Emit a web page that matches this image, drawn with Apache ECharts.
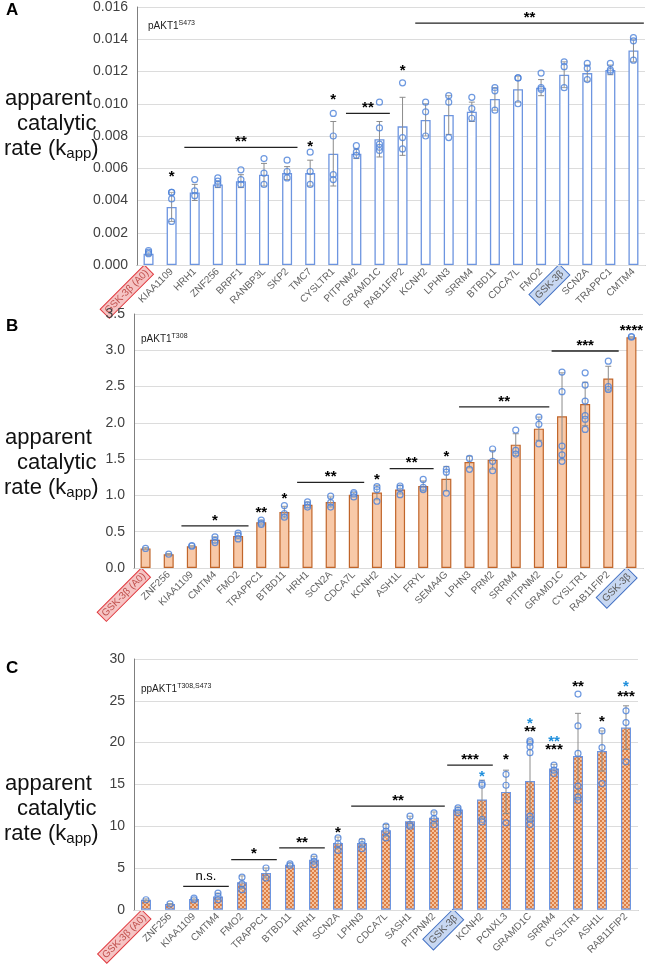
<!DOCTYPE html>
<html lang="en">
<head>
<meta charset="UTF-8">
<title>apparent catalytic rate</title>
<script src="https://cdn.jsdelivr.net/npm/echarts@6/dist/echarts.min.js"></script>
<style>
  html, body { margin: 0; padding: 0; background: #fff; }
  #chart { width: 649px; height: 966px; }
</style>
</head>
<body>
<div id="chart"></div>
<script>
// ---- panel A : pAKT1 S473 ----
var catA = ['GSK-3β (A0)', 'KIAA1109', 'HRH1', 'ZNF256', 'BRPF1', 'RANBP3L', 'SKP2', 'TMC7', 'CYSLTR1', 'PITPNM2',
  'GRAMD1C', 'RAB11FIP2', 'KCNH2', 'LPHN3', 'SRRM4', 'BTBD11', 'CDCA7L', 'FMO2', 'GSK-3β', 'SCN2A', 'TRAPPC1', 'CMTM4'];
var meanA = [0.0007, 0.0036, 0.0045, 0.0050, 0.0052, 0.0056, 0.0057, 0.0057, 0.0069, 0.0069,
  0.0078, 0.0086, 0.0090, 0.0093, 0.0095, 0.0103, 0.0109, 0.0110, 0.0118, 0.0119, 0.0121, 0.0133];
var sdA = [0.0001, 0.0009, 0.0005, 0.0002, 0.0004, 0.0007, 0.0004, 0.0008, 0.0020, 0.0003,
  0.0011, 0.0018, 0.0010, 0.0012, 0.0006, 0.0007, 0.0008, 0.0005, 0.0008, 0.0005, 0.0003, 0.0007];
var ptsA = [[0.0009, 0.0008, 0.0007], [0.0045, 0.0041, 0.0027, 0.0045], [0.0053, 0.0046, 0.0043], [0.0054, 0.0052, 0.0050],
  [0.0059, 0.0053, 0.0050], [0.0066, 0.0057, 0.0050], [0.0065, 0.0058, 0.0054], [0.0070, 0.0058, 0.0050],
  [0.0094, 0.0080, 0.0056, 0.0053], [0.0074, 0.0070, 0.0068], [0.0101, 0.0085, 0.0075, 0.0073, 0.0071],
  [0.0113, 0.0079, 0.0072], [0.0101, 0.0095, 0.0080], [0.0105, 0.0101, 0.0079], [0.0104, 0.0097, 0.0091],
  [0.0110, 0.0108, 0.0096], [0.0116, 0.0116, 0.0100], [0.0119, 0.0110, 0.0109], [0.0126, 0.0123, 0.0110],
  [0.0125, 0.0122, 0.0115], [0.0125, 0.0121, 0.0120], [0.0141, 0.0139, 0.0127]];
// [from, to, level, text, colour]
var sigA = [[1, 1, 0.0053, '*', '#000'], [2, 6, 0.0073, '**', '#000'], [7, 7, 0.0072, '*', '#000'],
  [8, 8, 0.0101, '*', '#000'], [9, 10, 0.0094, '**', '#000'], [11, 11, 0.0119, '*', '#000'],
  [12, 21, 0.0150, '**', '#000']];
var ticksA = [0, 0.016, 0.002];

// ---- panel B : pAKT1 T308 ----
var catB = ['GSK-3β (A0)', 'ZNF256', 'KIAA1109', 'CMTM4', 'FMO2', 'TRAPPC1', 'BTBD11', 'HRH1', 'SCN2A', 'CDCA7L', 'KCNH2',
  'ASH1L', 'FRYL', 'SEMA4G', 'LPHN3', 'PRM2', 'SRRM4', 'PITPNM2', 'GRAMD1C', 'CYSLTR1', 'RAB11FIP2', 'GSK-3β'];
var meanB = [0.27, 0.19, 0.30, 0.39, 0.44, 0.63, 0.77, 0.87, 0.91, 1.01, 1.04,
  1.08, 1.13, 1.23, 1.46, 1.49, 1.70, 1.92, 2.09, 2.26, 2.61, 3.18];
var sdB = [0.01, 0.01, 0.01, 0.04, 0.04, 0.03, 0.08, 0.04, 0.07, 0.03, 0.10,
  0.06, 0.07, 0.17, 0.08, 0.13, 0.15, 0.16, 0.60, 0.30, 0.17, 0.01];
var ptsB = [[0.27], [0.19], [0.31, 0.30], [0.43, 0.38, 0.35], [0.48, 0.45, 0.40], [0.66, 0.62, 0.60],
  [0.86, 0.75, 0.70], [0.91, 0.87, 0.84], [0.99, 0.90, 0.84], [1.04, 1.02, 0.98], [1.12, 1.08, 0.92],
  [1.13, 1.10, 1.01], [1.22, 1.11, 1.08], [1.36, 1.32, 1.03], [1.51, 1.36], [1.64, 1.47, 1.34],
  [1.90, 1.62, 1.57], [2.08, 1.98, 1.71], [2.70, 2.43, 1.68, 1.56, 1.47], [2.69, 2.52, 2.30, 2.10, 2.05, 1.91],
  [2.85, 2.50, 2.46], [3.18, 3.19]];
var sigB = [[2, 4, 0.58, '*', '#000'], [5, 5, 0.72, '**', '#000'], [6, 6, 0.92, '*', '#000'],
  [7, 9, 1.18, '**', '#000'], [10, 10, 1.18, '*', '#000'], [11, 12, 1.37, '**', '#000'],
  [13, 13, 1.50, '*', '#000'], [14, 17, 2.22, '**', '#000'], [18, 20, 2.99, '***', '#000'],
  [21, 21, 3.24, '****', '#000']];
var ticksB = [0, 3.5, 0.5];

// ---- panel C : ppAKT1 T308,S473 ----
var catC = ['GSK-3β (A0)', 'ZNF256', 'KIAA1109', 'CMTM4', 'FMO2', 'TRAPPC1', 'BTBD11', 'HRH1', 'SCN2A', 'LPHN3', 'CDCA7L',
  'SASH1', 'PITPNM2', 'GSK-3β', 'KCNH2', 'PCNXL3', 'GRAMD1C', 'SRRM4', 'CYSLTR1', 'ASH1L', 'RAB11FIP2'];
var meanC = [1.2, 0.7, 1.3, 1.6, 3.3, 4.4, 5.4, 6.0, 8.0, 8.0, 9.5,
  10.6, 11.0, 12.0, 13.2, 14.1, 15.4, 16.9, 18.4, 19.0, 21.8];
var sdC = [0.1, 0.05, 0.1, 0.4, 0.75, 0.6, 0.15, 0.4, 0.7, 0.45, 0.7,
  0.6, 0.7, 0.3, 2.3, 2.6, 4.7, 0.5, 5.1, 2.4, 2.6];
var ptsC = [[1.2], [0.7], [1.4, 1.2], [2.0, 1.6, 1.2], [3.9, 3.1, 2.4], [5.0, 3.8], [5.5, 5.3],
  [6.3, 5.8, 5.4], [8.6, 7.9, 7.1], [8.2, 7.8, 7.3], [10.0, 9.4, 8.6], [11.2, 10.2, 10.0],
  [11.6, 10.9, 10.2], [12.2, 11.9, 11.6], [15.1, 14.9, 10.8, 10.5], [16.2, 14.9, 10.4],
  [20.2, 20.0, 19.5, 18.8, 11.2, 10.8, 10.2], [17.3, 16.7, 16.3], [25.8, 22.0, 18.7, 14.8, 13.5, 13.1],
  [21.4, 19.4, 15.1], [23.8, 22.4, 17.7]];
var sigC = [[2, 3, 2.8, 'n.s.', '#000'], [4, 5, 6.0, '*', '#000'], [6, 7, 7.4, '**', '#000'],
  [8, 8, 8.9, '*', '#000'], [9, 12, 12.4, '**', '#000'], [13, 14, 17.3, '***', '#000'],
  [14, 14, 15.6, '*', '#1f8fdc'], [15, 15, 17.6, '*', '#000'],
  [16, 16, 21.0, '**', '#000'], [16, 16, 22.0, '*', '#1f8fdc'],
  [17, 17, 18.8, '***', '#000'], [17, 17, 19.8, '**', '#1f8fdc'],
  [18, 18, 26.4, '**', '#000'], [19, 19, 22.2, '*', '#000'],
  [20, 20, 25.2, '***', '#000'], [20, 20, 26.4, '*', '#1f8fdc']];
var ticksC = [0, 30, 5];

var chart = echarts.init(document.getElementById('chart'));

// checkered orange fill of panel C
var pat = document.createElement('canvas');
pat.width = 4; pat.height = 4;
var pc = pat.getContext('2d');
pc.fillStyle = '#f5c29c'; pc.fillRect(0, 0, 4, 4);
pc.fillStyle = '#de7f45'; pc.fillRect(0, 0, 2, 2); pc.fillRect(2, 2, 2, 2);

function errRender(params, api) {
  var i = api.value(0), m = api.value(1), sd = api.value(2);
  var t = api.coord([i, m + sd]), b = api.coord([i, m - sd]);
  var st = { stroke: '#8c8c8c', lineWidth: 1 };
  return { type: 'group', children: [
    { type: 'line', shape: { x1: t[0], y1: t[1], x2: b[0], y2: b[1] }, style: st },
    { type: 'line', shape: { x1: t[0] - 3, y1: t[1], x2: t[0] + 3, y2: t[1] }, style: st },
    { type: 'line', shape: { x1: b[0] - 3, y1: b[1], x2: b[0] + 3, y2: b[1] }, style: st }
  ]};
}

function sigRender(list) {
  return function (params, api) {
    var d = list[params.dataIndex];
    var p1 = api.coord([d[0], d[2]]), p2 = api.coord([d[1], d[2]]);
    var half = api.size([1, 0])[0] * 0.45;
    var kids = [];
    var ty = p1[1];
    if (d[0] !== d[1]) {
      kids.push({ type: 'line', shape: { x1: p1[0] - half, y1: p1[1], x2: p2[0] + half, y2: p2[1] },
        style: { stroke: '#222', lineWidth: 1.3 } });
      ty = p1[1] - 3;
    }
    var star = d[3] !== 'n.s.';
    kids.push({ type: 'text', x: (p1[0] + p2[0]) / 2, y: ty + (star ? 5 : 0),
      style: { text: d[3], fill: d[4], font: star ? 'bold 15px "Liberation Sans", Arial' : '13px "Liberation Sans", Arial',
        align: 'center', verticalAlign: 'bottom' } });
    return { type: 'group', children: kids };
  };
}

var gridsPos = [
  { left: 137, top: 7, width: 508, height: 258 },
  { left: 134, top: 314, width: 509, height: 254 },
  { left: 134, top: 659, width: 504, height: 255 }
];
var cats = [catA, catB, catC];
var ticks = [ticksA, ticksB, ticksC];
var decimals = [3, 1, 0];

var xAxes = cats.map(function (c, g) {
  return {
    type: 'category', gridIndex: g, data: c, z: 0,
    axisTick: { show: false },
    axisLine: { lineStyle: { color: '#8c8c8c' } },
    axisLabel: {
      rotate: 45, interval: 0, fontSize: 10, color: '#636363', margin: 5,
      fontFamily: 'Liberation Sans, Arial',
      formatter: function (v) {
        if (v === 'GSK-3β (A0)') return '{red|' + v + '}';
        if (v === 'GSK-3β') return '{blue|' + v + '}';
        return v;
      },
      rich: {
        red: { backgroundColor: '#f6c4c4', borderColor: '#e0393e', borderWidth: 1, padding: [1, 2],
          color: '#c0504d', fontSize: 10 },
        blue: { backgroundColor: '#c8d8f2', borderColor: '#4472c4', borderWidth: 1, padding: [2, 3],
          color: '#595959', fontSize: 10 }
      }
    }
  };
});
var yAxes = ticks.map(function (t, g) {
  return {
    type: 'value', gridIndex: g, min: t[0], max: t[1], interval: t[2], z: 1,
    axisLine: { show: true, lineStyle: { color: '#7f7f7f' } },
    axisTick: { show: false },
    splitLine: { lineStyle: { color: '#dcdcdc' } },
    axisLabel: { fontSize: 14, color: '#404040', margin: 9, fontFamily: 'Liberation Sans, Arial',
      formatter: function (v) { return v.toFixed(decimals[g]); } }
  };
});

var means = [meanA, meanB, meanC];
var sds = [sdA, sdB, sdC];
var pts = [ptsA, ptsB, ptsC];
var sigs = [sigA, sigB, sigC];
var barStyles = [
  { color: '#ffffff', borderColor: '#6d95e0', borderWidth: 1.3 },
  { color: '#f8c9a8', borderColor: '#c0652a', borderWidth: 1.2 },
  { color: { image: pat, repeat: 'repeat' }, borderColor: '#6d95e0', borderWidth: 1.2 }
];

var series = [];
for (var g = 0; g < 3; g++) {
  series.push({ type: 'bar', xAxisIndex: g, yAxisIndex: g, data: means[g], barWidth: 10,
    itemStyle: barStyles[g], z: 2, silent: true });
  series.push({ type: 'custom', xAxisIndex: g, yAxisIndex: g, renderItem: errRender, z: 3,
    data: means[g].map(function (m, i) { return [i, m, sds[g][i]]; }) });
  var sc = [];
  pts[g].forEach(function (arr, i) { arr.forEach(function (p) { sc.push([i, p]); }); });
  series.push({ type: 'scatter', xAxisIndex: g, yAxisIndex: g, data: sc, symbolSize: 6, z: 4,
    itemStyle: { color: 'rgba(255,255,255,0.2)', borderColor: '#4a7fd8', borderWidth: 1.2 } });
  series.push({ type: 'custom', xAxisIndex: g, yAxisIndex: g, renderItem: sigRender(sigs[g]), z: 5,
    clip: false, data: sigs[g].map(function (s) { return [s[0], s[2], s[1]]; }) });
}

function yName(x, y) {
  var f = '22px "Liberation Sans", Arial';
  return [
    { type: 'text', left: x, top: y, style: { text: 'apparent', font: f, fill: '#111' } },
    { type: 'text', left: x + 12, top: y + 25, style: { text: 'catalytic', font: f, fill: '#111' } },
    { type: 'text', left: x - 1, top: y + 50, style: { text: 'rate (k{sub|app})', font: f, fill: '#111',
      rich: { sub: { fontSize: 15, padding: [10, 0, 0, 0] } } } }
  ];
}
function inner(x, y, main, sup) {
  return { type: 'text', left: x, top: y, style: {
    text: main + '{s|' + sup + '}', font: '10px "Liberation Sans", Arial', fill: '#222',
    rich: { s: { fontSize: 7, padding: [0, 0, 5, 0] } } } };
}

var graphics = [
  { type: 'text', left: 6, top: 2, style: { text: 'A', font: 'bold 17px "Liberation Sans", Arial', fill: '#000' } },
  { type: 'text', left: 6, top: 318, style: { text: 'B', font: 'bold 17px "Liberation Sans", Arial', fill: '#000' } },
  { type: 'text', left: 6, top: 660, style: { text: 'C', font: 'bold 17px "Liberation Sans", Arial', fill: '#000' } },
  inner(148, 20, 'pAKT1', 'S473'),
  inner(141, 333, 'pAKT1', 'T308'),
  inner(141, 683, 'ppAKT1', 'T308,S473')
].concat(yName(5, 88), yName(5, 427), yName(5, 773));

chart.setOption({
  animation: false,
  grid: gridsPos,
  xAxis: xAxes,
  yAxis: yAxes,
  series: series,
  graphic: graphics
});
</script>
</body>
</html>
